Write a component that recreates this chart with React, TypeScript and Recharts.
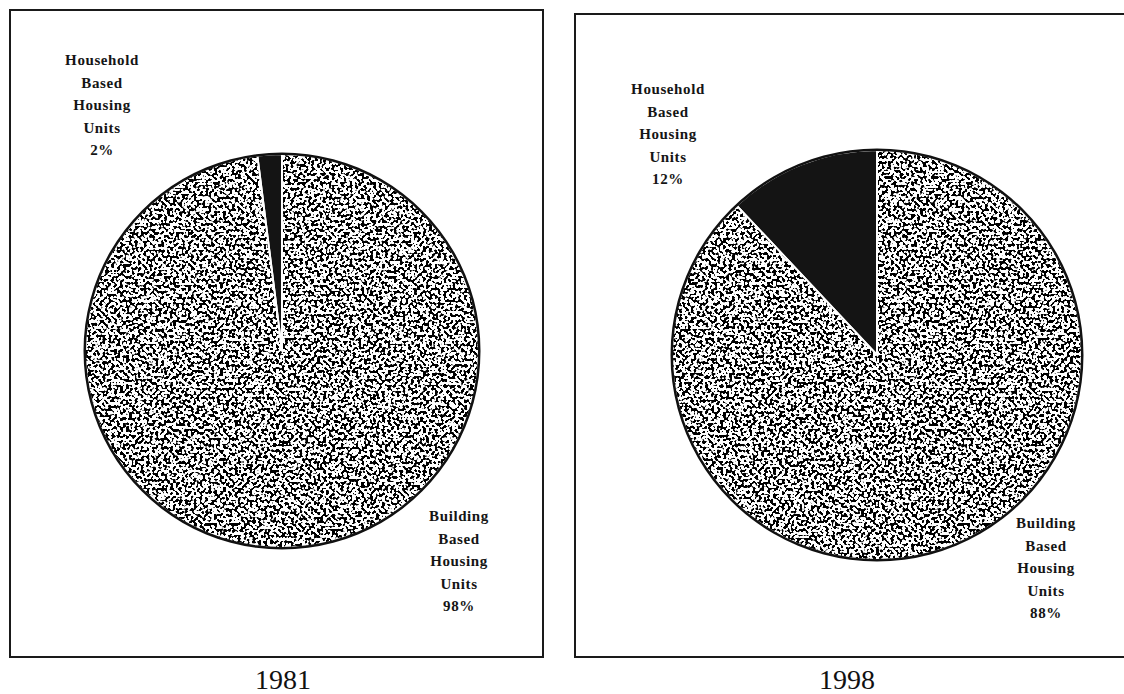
import { PieChart, Pie, Cell } from "recharts";

// shares of housing units
const categories = ["Household Based Housing Units", "Building Based Housing Units"];
const shares1981 = [2, 98];
const shares1998 = [12, 88];
const years = ["1981", "1998"];

const W = 1124;
const H = 694;
const serif = "'Liberation Serif', 'DejaVu Serif', serif";

const toRows = (values: number[]) =>
  categories.map((name, i) => ({ name, value: values[i] }));

const fills = ["#141414", "url(#stipple)"];

function Label({ lines, x, y }: { lines: string[]; x: number; y: number }) {
  return (
    <div
      style={{
        position: "absolute",
        left: x - 60,
        top: y,
        width: 120,
        textAlign: "center",
        fontFamily: serif,
        fontWeight: 700,
        fontSize: 15,
        letterSpacing: 0.6,
        lineHeight: "22.5px",
        color: "#151515",
      }}
    >
      {lines.map((l, i) => (
        <div key={i}>{l}</div>
      ))}
    </div>
  );
}

function YearPie({ values, cx, cy, r }: { values: number[]; cx: number; cy: number; r: number }) {
  return (
    <>
      <Pie
        data={toRows(values)}
        dataKey="value"
        cx={cx}
        cy={cy}
        outerRadius={r}
        startAngle={90}
        endAngle={450}
        stroke="#fff"
        strokeWidth={2}
        label={false}
        labelLine={false}
        isAnimationActive={false}
      >
        {values.map((_, i) => (
          <Cell key={i} fill={fills[i]} />
        ))}
      </Pie>
      {/* black outline round the pie */}
      <Pie
        data={[{ value: 1 }]}
        dataKey="value"
        cx={cx}
        cy={cy}
        innerRadius={r - 1}
        outerRadius={r + 1.5}
        fill="#111"
        stroke="none"
        isAnimationActive={false}
      />
    </>
  );
}

export default function App() {
  return (
    <div style={{ position: "absolute", left: 0, top: 0, width: W, height: H, overflow: "hidden", background: "#fff" }}>
      <div style={{ position: "absolute", left: 9, top: 9, width: 531, height: 645, border: "2px solid #1a1a1a" }} />
      <div style={{ position: "absolute", left: 574, top: 13, width: 600, height: 641, border: "2px solid #1a1a1a" }} />

      <div style={{ position: "absolute", left: 0, top: 0 }}>
        <PieChart width={W} height={H}>
          <defs>
            <filter id="noise" x="0" y="0" width={W} height={H} filterUnits="userSpaceOnUse" colorInterpolationFilters="sRGB">
              <feTurbulence type="fractalNoise" baseFrequency="0.34" numOctaves={1} seed={7} result="n" />
              <feColorMatrix
                in="n"
                type="matrix"
                values="0 0 0 0 0  0 0 0 0 0  0 0 0 0 0  30 0 0 0 -15.3"
              />
            </filter>
            <pattern id="stipple" patternUnits="userSpaceOnUse" x="0" y="0" width={W} height={H}>
              <rect x="0" y="0" width={W} height={H} fill="#fff" />
              <rect x="0" y="0" width={W} height={H} fill="#1a1a1a" filter="url(#noise)" />
            </pattern>
          </defs>
          <YearPie values={shares1981} cx={277} cy={346} r={197} />
          <YearPie values={shares1998} cx={872} cy={350} r={205} />
        </PieChart>
      </div>

      <Label lines={["Household", "Based", "Housing", "Units", `${shares1981[0]}%`]} x={102} y={49} />
      <Label lines={["Building", "Based", "Housing", "Units", `${shares1981[1]}%`]} x={459} y={505} />
      <Label lines={["Household", "Based", "Housing", "Units", `${shares1998[0]}%`]} x={668} y={78} />
      <Label lines={["Building", "Based", "Housing", "Units", `${shares1998[1]}%`]} x={1046} y={512} />

      {years.map((y, i) => (
        <div
          key={y}
          style={{
            position: "absolute",
            left: (i === 0 ? 283 : 847) - 60,
            top: 665,
            width: 120,
            textAlign: "center",
            fontFamily: serif,
            fontSize: 28,
            lineHeight: "29px",
            color: "#111",
          }}
        >
          {y}
        </div>
      ))}
    </div>
  );
}
